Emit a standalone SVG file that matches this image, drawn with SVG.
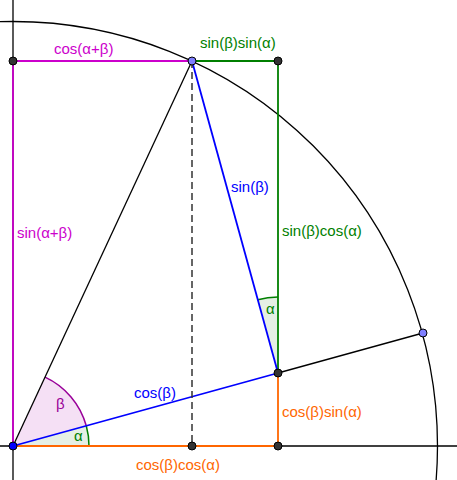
<svg xmlns="http://www.w3.org/2000/svg" width="457" height="480" viewBox="0 0 457 480">
<style>
text{font-family:"Liberation Sans",Arial,sans-serif;font-size:15px}
.mag{fill:#cc00cc}.grn{fill:#007f00}.blu{fill:#0000ff}.org{fill:#ff6600}.pur{fill:#990099}
.pt{stroke:#000;stroke-width:1}
.dk{fill:#333}.lb{fill:#7f7fff}
</style>
<rect width="457" height="480" fill="#fff"/>
<g id="axes" stroke="#000" stroke-width="1.3" fill="none">
<line x1="13" y1="0" x2="13" y2="480"/>
<line x1="0" y1="446" x2="457" y2="446"/>
<circle cx="13" cy="446" r="424.5"/>
</g>
<g id="angles">
<path d="M13,446 L89,446 A76,76 0 0 0 86.27,425.82 Z" fill="#e5efe5" stroke="none"/>
<path d="M89,446 A76,76 0 0 0 86.27,425.82" fill="none" stroke="#007f00" stroke-width="1.5"/>
<path d="M13,446 L86.27,425.82 A76,76 0 0 0 45.05,377.09 Z" fill="#f5e0f5" stroke="none"/>
<path d="M86.27,425.82 A76,76 0 0 0 45.05,377.09" fill="none" stroke="#990099" stroke-width="1.5"/>
<path d="M278,373 L278,297 A76,76 0 0 0 257.8,299.7 Z" fill="#e5efe5" stroke="none"/>
<path d="M278,297 A76,76 0 0 0 257.8,299.7" fill="none" stroke="#007f00" stroke-width="1.5"/>
</g>
<g id="connectors" fill="none" stroke-width="1.8">
<line x1="13" y1="61" x2="192" y2="61" stroke="#cc00cc"/>
<line x1="13" y1="61" x2="13" y2="446" stroke="#cc00cc"/>
<line x1="192" y1="61" x2="278" y2="61" stroke="#007f00"/>
<line x1="278" y1="61" x2="278" y2="373" stroke="#007f00"/>
<line x1="278" y1="373" x2="278" y2="446" stroke="#ff6600"/>
<line x1="13" y1="446" x2="278" y2="446" stroke="#ff6600"/>
<line x1="13" y1="446" x2="278" y2="373" stroke="#0000ff"/>
<line x1="192" y1="61" x2="278" y2="373" stroke="#0000ff"/>
<line x1="13" y1="446" x2="192" y2="61" stroke="#000" stroke-width="1.3"/>
<line x1="278" y1="373" x2="423" y2="333" stroke="#000" stroke-width="1.3"/>
<line x1="192" y1="61" x2="192" y2="446" stroke="#333" stroke-width="1.5" stroke-dasharray="7,4"/>
</g>
<g id="points">
<circle class="pt dk" cx="13" cy="61" r="4"/>
<circle class="pt dk" cx="278" cy="61" r="4"/>
<circle class="pt dk" cx="278" cy="373" r="4"/>
<circle class="pt dk" cx="192" cy="446" r="4"/>
<circle class="pt dk" cx="278" cy="446" r="4"/>
<circle class="pt lb" cx="192" cy="61" r="4"/>
<circle class="pt lb" cx="423" cy="333" r="4"/>
<circle class="pt" cx="13" cy="446" r="4" fill="#0000ff"/>
</g>
<g id="labels">
<text class="mag" x="54" y="54">cos(α+β)</text>
<text class="grn" x="200" y="48">sin(β)sin(α)</text>
<text class="mag" x="17" y="238">sin(α+β)</text>
<text class="blu" x="231" y="192">sin(β)</text>
<text class="grn" x="282" y="236">sin(β)cos(α)</text>
<text class="blu" x="134" y="398">cos(β)</text>
<text class="org" x="136" y="470">cos(β)cos(α)</text>
<text class="org" x="282" y="417">cos(β)sin(α)</text>
<text class="pur" x="56" y="409">β</text>
<text class="grn" x="74" y="441">α</text>
<text class="grn" x="266" y="314">α</text>
</g>
</svg>
